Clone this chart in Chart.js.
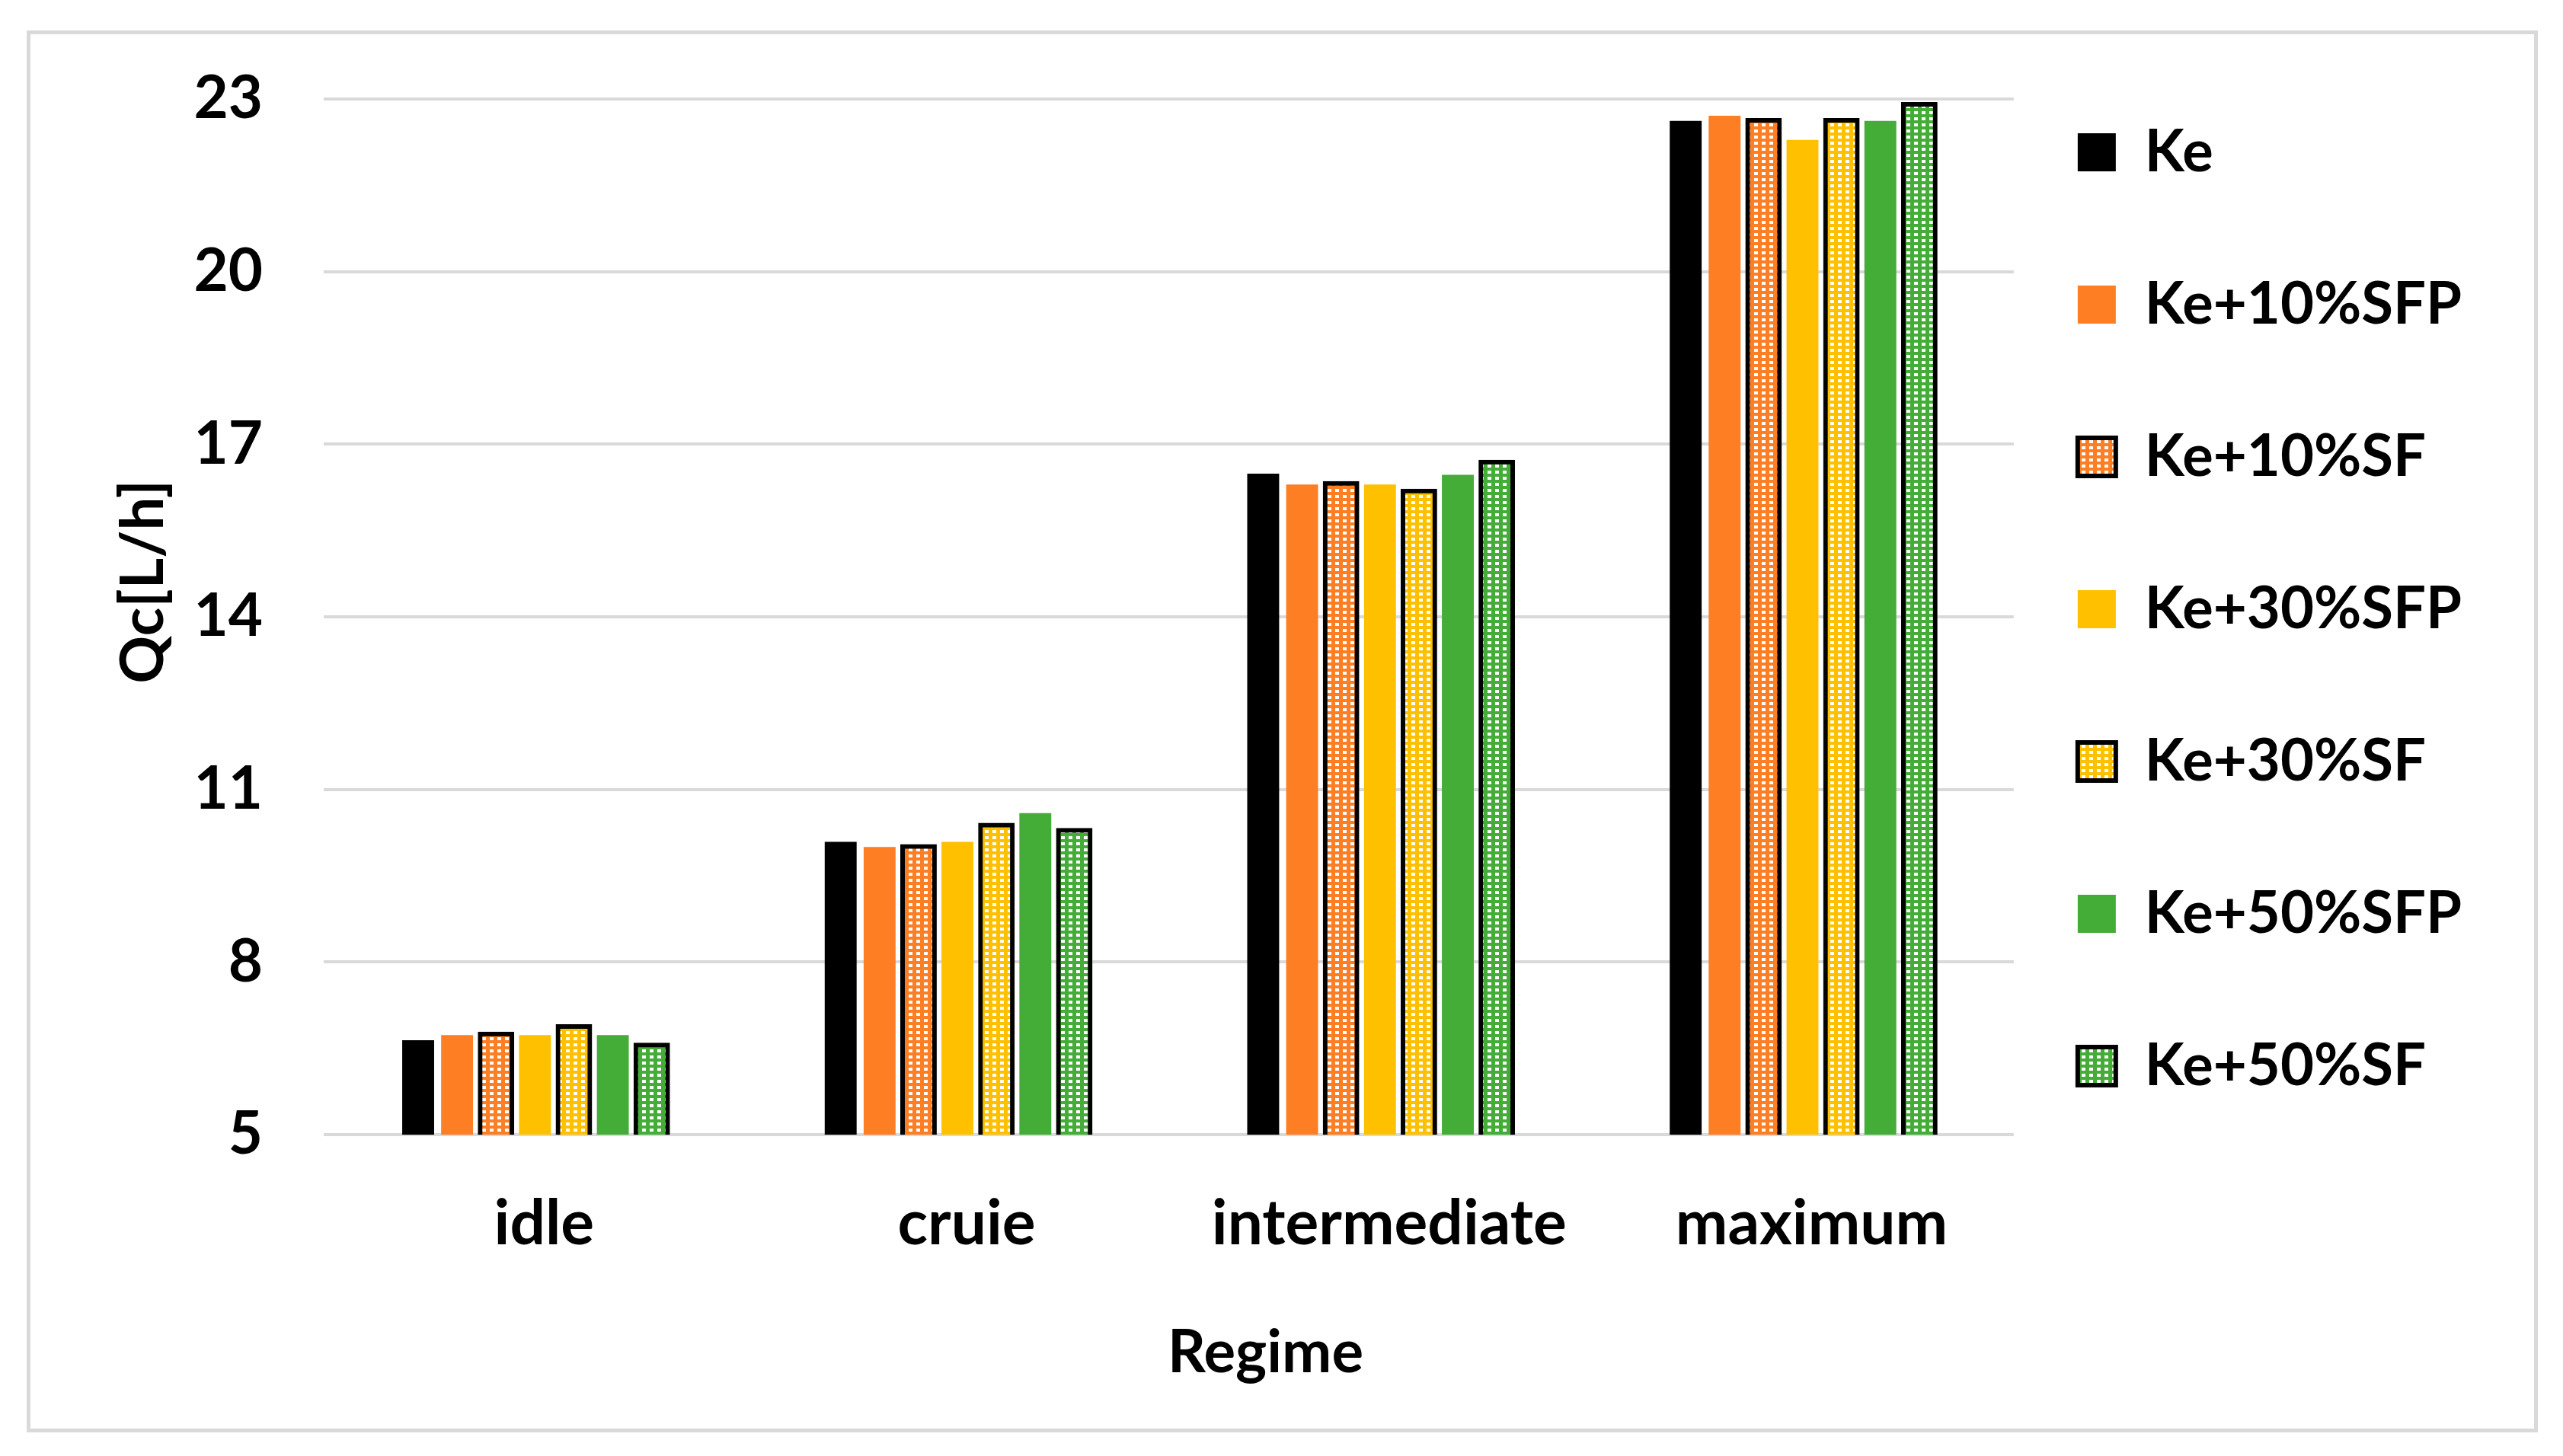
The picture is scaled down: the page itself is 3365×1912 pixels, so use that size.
<!DOCTYPE html>
<html>
<head>
<meta charset="utf-8">
<script src="https://cdn.jsdelivr.net/npm/chart.js@4.4.1/dist/chart.umd.min.js"></script>
<style>
  html, body { margin: 0; padding: 0; background: #fff; }
  #wrap { width: 3365px; height: 1912px; position: relative; }
</style>
</head>
<body>
<div id="wrap"><canvas id="grafico"></canvas></div>
<script>
// data
const regimes = ['idle', 'cruie', 'intermediate', 'maximum']
const nomes = ['Ke', 'Ke+10%SFP', 'Ke+10%SF', 'Ke+30%SFP', 'Ke+30%SF', 'Ke+50%SFP', 'Ke+50%SF']
const ke      = [6.64, 10.09, 16.49, 22.62]
const ke10sfp = [6.73, 10.00, 16.30, 22.71]
const ke10sf  = [6.75, 10.01, 16.32, 22.63]
const ke30sfp = [6.73, 10.09, 16.30, 22.29]
const ke30sf  = [6.88, 10.38, 16.19, 22.63]
const ke50sfp = [6.73, 10.59, 16.47, 22.62]
const ke50sf  = [6.56, 10.29, 16.69, 22.91]
const yTicks  = [5, 8, 11, 14, 17, 20, 23]

const preto = '#000000'
const laranja = '#fd7e23'
const amarelo = '#ffc000'
const verde = '#44ad38'

// white dots on a colour, like the excel fill
function pontos(cor) {
    const c = document.createElement('canvas')
    c.width = 10
    c.height = 8
    const g = c.getContext('2d')
    g.fillStyle = cor
    g.fillRect(0, 0, 10, 8)
    g.fillStyle = '#ffffff'
    g.fillRect(3, 2, 5, 4)
    return g.createPattern(c, 'repeat')
}

function liso(label, data, cor) {
    return { label: label, data: data, backgroundColor: cor, borderWidth: 0 }
}
function pontilhado(label, data, cor) {
    return {
        label: label, data: data, backgroundColor: pontos(cor),
        borderColor: preto, borderWidth: 6, inflateAmount: 3
    }
}

const fonte = { family: 'Lato', size: 78, weight: 'bold' }

const moldura = {
    id: 'moldura',
    beforeDraw(chart) {
        const c = chart.ctx
        c.save()
        c.fillStyle = '#ffffff'
        c.fillRect(0, 0, chart.width, chart.height)
        c.strokeStyle = '#d9d9d9'
        c.lineWidth = 5
        c.strokeRect(37.5, 42.5, 3292, 1836)
        c.restore()
    },
    afterLayout(chart) {
        // pull the legend a bit closer to the plot
        chart.legend.left -= 40
        chart.legend.right -= 40
    },
    afterDraw(chart) {
        const c = chart.ctx
        c.save()
        c.fillStyle = preto
        c.font = 'bold 78px Lato'
        c.textAlign = 'center'
        c.textBaseline = 'middle'
        c.fillText('Regime', chart.width / 2 - 21, 1777)
        c.restore()
    }
}

Chart.defaults.font.family = 'Lato'
Chart.defaults.color = preto

new Chart(document.getElementById('grafico'), {
    type: 'bar',
    data: {
        labels: regimes,
        datasets: [
            liso(nomes[0], ke, preto),
            liso(nomes[1], ke10sfp, laranja),
            pontilhado(nomes[2], ke10sf, laranja),
            liso(nomes[3], ke30sfp, amarelo),
            pontilhado(nomes[4], ke30sf, amarelo),
            liso(nomes[5], ke50sfp, verde),
            pontilhado(nomes[6], ke50sf, verde)
        ]
    },
    options: {
        responsive: true,
        maintainAspectRatio: false,
        devicePixelRatio: 1,
        animation: false,
        categoryPercentage: 0.645,
        barPercentage: 0.82,
        layout: { padding: { left: 142, right: 83, top: 38, bottom: 258 } },
        plugins: {
            legend: {
                position: 'right',
                align: 'start',
                labels: {
                    boxWidth: 50,
                    boxHeight: 50,
                    padding: 124,
                    font: { family: 'Lato', size: 76, weight: 'bold' },
                    color: preto
                }
            },
            tooltip: { enabled: false }
        },
        scales: {
            x: {
                grid: { display: false },
                border: { display: false },
                ticks: { font: { family: 'Lato', size: 82, weight: 'bold' }, color: preto, padding: 60, labelOffset: 12 },
                afterFit: (s) => { s.height = 164 }
            },
            y: {
                min: 5,
                max: 24.22,
                afterBuildTicks: (s) => { s.ticks = yTicks.map(v => ({ value: v })) },
                afterFit: (s) => { s.width = 283; s.paddingTop = 0; s.paddingBottom = 0 },
                grid: { color: '#d9d9d9', lineWidth: 4, drawTicks: false },
                border: { display: false },
                ticks: { font: fonte, color: preto, padding: 80 },
                title: {
                    display: true,
                    text: 'Qc[L/h]',
                    font: fonte,
                    color: preto,
                    padding: { top: 0, bottom: 21 }
                }
            }
        }
    },
    plugins: [moldura]
})
</script>
</body>
</html>
